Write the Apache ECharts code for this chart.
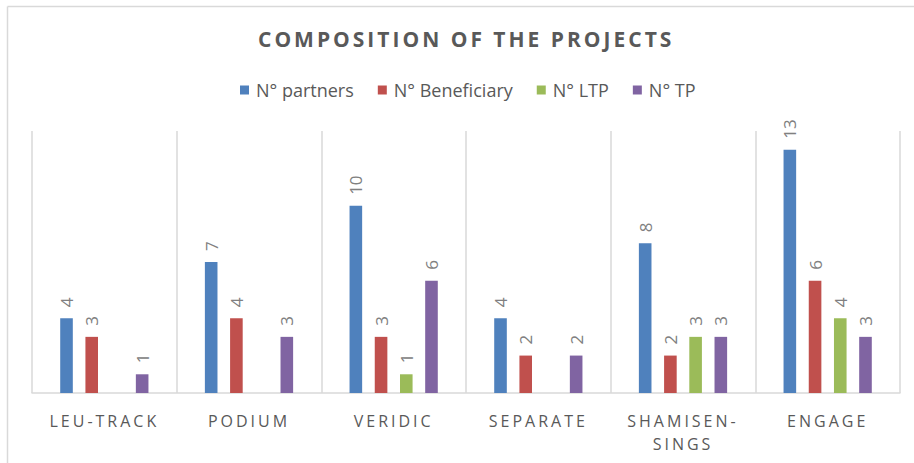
<!DOCTYPE html>
<html>
<head>
<meta charset="utf-8">
<script src="https://cdn.jsdelivr.net/npm/echarts@6/dist/echarts.min.js"></script>
<style>
html,body{margin:0;padding:0;background:#fff;}
#chart{width:914px;height:463px;}
</style>
</head>
<body>
<div id="chart"></div>
<script>
const categories = ['LEU-TRACK', 'PODIUM', 'VERIDIC', 'SEPARATE', 'SHAMISEN-\nSINGS', 'ENGAGE'];
const seriesNames = ['N° partners', 'N° Beneficiary', 'N° LTP', 'N° TP'];
const partners = [4, 7, 10, 4, 8, 13];
const beneficiary = [3, 4, 3, 2, 2, 6];
const ltp = [null, null, 1, null, 3, 4];
const tp = [1, 3, 6, 2, 3, 3];
const titleText = 'COMPOSITION OF THE PROJECTS';

const colors = ['#4F81BD', '#C0504D', '#9BBB59', '#8064A2'];
const font = '"Open Sans", "Liberation Sans", sans-serif';

const chart = echarts.init(document.getElementById('chart'), null, {renderer: 'svg'});

function mk(name, data, i) {
  return {
    name: name, type: 'bar', data: data,
    barGap: '100%', barCategoryGap: '39%',
    itemStyle: {color: colors[i]},
    label: {
      show: true, position: 'top', rotate: 90, align: 'left', verticalAlign: 'middle',
      distance: 11, color: '#808080', fontSize: 17, fontFamily: font
    }
  };
}

chart.setOption({
  animation: false,
  title: {
    text: titleText, left: 253, top: 23,
    textStyle: {fontFamily: font, fontSize: 21, fontWeight: 'bold', color: '#595959'}
  },
  legend: {
    top: 76, left: 235, itemWidth: 9, itemHeight: 9, itemGap: 24,
    icon: 'rect',
    textStyle: {fontFamily: font, fontSize: 18, color: '#595959', padding: [0, 0, 0, 2]},
    data: seriesNames
  },
  grid: {left: 32, right: 14, top: 131, bottom: 70},
  xAxis: {
    type: 'category', data: categories,
    axisLine: {lineStyle: {color: '#d9d9d9', width: 1.5}},
    axisTick: {show: false},
    splitLine: {show: true, lineStyle: {color: '#d9d9d9', width: 1.5}},
    axisLabel: {fontFamily: font, fontSize: 16, color: '#595959', margin: 16, lineHeight: 23, interval: 0}
  },
  yAxis: {
    type: 'value', min: 0, max: 14,
    axisLabel: {show: false}, axisLine: {show: false}, axisTick: {show: false}, splitLine: {show: false}
  },
  graphic: [
    {type: 'line', shape: {x1: 7.5, y1: 6.5, x2: 914, y2: 6.5}, style: {stroke: '#d9d9d9', lineWidth: 1.5}},
    {type: 'line', shape: {x1: 7.5, y1: 6.5, x2: 7.5, y2: 463}, style: {stroke: '#d9d9d9', lineWidth: 1.5}}
  ],
  series: [
    mk(seriesNames[0], partners, 0),
    mk(seriesNames[1], beneficiary, 1),
    mk(seriesNames[2], ltp, 2),
    mk(seriesNames[3], tp, 3)
  ]
});

function spacing() {
  const catSet = new Set(['LEU-TRACK', 'PODIUM', 'VERIDIC', 'SEPARATE', 'SHAMISEN-', 'SINGS', 'ENGAGE']);
  document.querySelectorAll('#chart text').forEach(t => {
    const s = t.textContent.trim();
    if (s === titleText) t.style.letterSpacing = '3px';
    else if (catSet.has(s)) t.style.letterSpacing = '3px';
  });
}
spacing();
chart.on('finished', spacing);
</script>
</body>
</html>
